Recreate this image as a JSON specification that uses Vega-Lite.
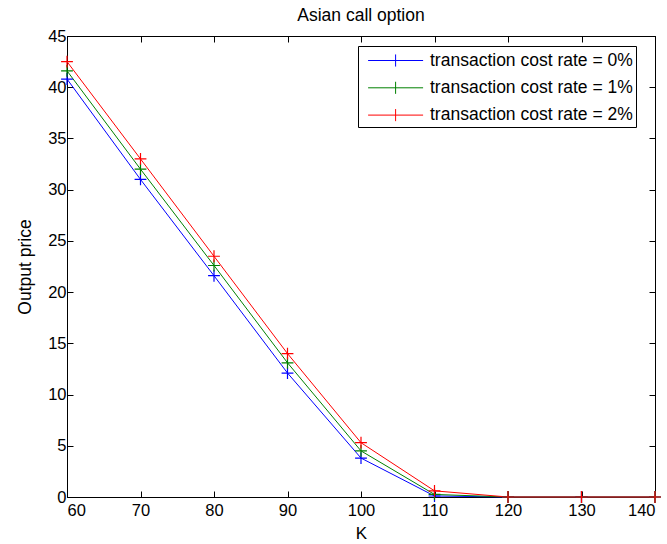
{
  "$schema": "https://vega.github.io/schema/vega-lite/v6.json",
  "width": 588,
  "height": 461,
  "autosize": "none",
  "padding": {"left": 67, "top": 36, "right": 12, "bottom": 47},
  "background": "white",
  "title": {"text": "Asian call option", "fontSize": 17.5, "fontWeight": "normal", "font": "Liberation Sans", "color": "black", "offset": 4},
  "config": {
    "view": {"stroke": "black", "strokeWidth": 1},
    "axis": {"domainColor": "black", "tickColor": "black", "labelColor": "black", "titleColor": "black", "labelFont": "Liberation Sans", "titleFont": "Liberation Sans", "labelFontSize": 16.5, "titleFontWeight": "normal", "grid": false, "tickSize": -6}
  },
  "data": {"values": [
    {"K": 60, "price": 40.8, "series": "transaction cost rate = 0%"},
    {"K": 70, "price": 31.0, "series": "transaction cost rate = 0%"},
    {"K": 80, "price": 21.6, "series": "transaction cost rate = 0%"},
    {"K": 90, "price": 12.1, "series": "transaction cost rate = 0%"},
    {"K": 100, "price": 3.8, "series": "transaction cost rate = 0%"},
    {"K": 110, "price": 0.1, "series": "transaction cost rate = 0%"},
    {"K": 120, "price": 0, "series": "transaction cost rate = 0%"},
    {"K": 130, "price": 0, "series": "transaction cost rate = 0%"},
    {"K": 140, "price": 0, "series": "transaction cost rate = 0%"},
    {"K": 60, "price": 41.6, "series": "transaction cost rate = 1%"},
    {"K": 70, "price": 32.0, "series": "transaction cost rate = 1%"},
    {"K": 80, "price": 22.6, "series": "transaction cost rate = 1%"},
    {"K": 90, "price": 13.1, "series": "transaction cost rate = 1%"},
    {"K": 100, "price": 4.5, "series": "transaction cost rate = 1%"},
    {"K": 110, "price": 0.25, "series": "transaction cost rate = 1%"},
    {"K": 120, "price": 0, "series": "transaction cost rate = 1%"},
    {"K": 130, "price": 0, "series": "transaction cost rate = 1%"},
    {"K": 140, "price": 0, "series": "transaction cost rate = 1%"},
    {"K": 60, "price": 42.5, "series": "transaction cost rate = 2%"},
    {"K": 70, "price": 33.0, "series": "transaction cost rate = 2%"},
    {"K": 80, "price": 23.5, "series": "transaction cost rate = 2%"},
    {"K": 90, "price": 14.0, "series": "transaction cost rate = 2%"},
    {"K": 100, "price": 5.3, "series": "transaction cost rate = 2%"},
    {"K": 110, "price": 0.6, "series": "transaction cost rate = 2%"},
    {"K": 120, "price": 0, "series": "transaction cost rate = 2%"},
    {"K": 130, "price": 0, "series": "transaction cost rate = 2%"},
    {"K": 140, "price": 0, "series": "transaction cost rate = 2%"}
  ]},
  "encoding": {
    "x": {"field": "K", "type": "quantitative", "scale": {"domain": [60, 140], "nice": false, "zero": false}},
    "y": {"field": "price", "type": "quantitative", "scale": {"domain": [0, 45], "nice": false}},
    "color": {"field": "series", "type": "nominal", "scale": {"domain": ["transaction cost rate = 0%", "transaction cost rate = 1%", "transaction cost rate = 2%"], "range": ["#0000ff", "#008000", "#ff0000"]}}
  },
  "layer": [
    {
      "mark": {"type": "line", "strokeWidth": 1},
      "encoding": {
        "x": {"field": "K", "type": "quantitative", "axis": {"orient": "bottom", "title": "K", "titleFontSize": 17, "values": [60, 70, 80, 90, 100, 110, 120, 130, 140], "labelPadding": 11, "titlePadding": 7}},
        "y": {"field": "price", "type": "quantitative", "axis": {"orient": "left", "title": "Output price", "titleFontSize": 17.5, "values": [0, 5, 10, 15, 20, 25, 30, 35, 40, 45], "labelPadding": 7, "titlePadding": 13}},
        "color": {"field": "series", "type": "nominal", "legend": {
          "orient": "none", "legendX": 291, "legendY": 10, "title": null,
          "strokeColor": "black", "fillColor": "white", "padding": 3,
          "symbolType": "M-0.4,0L4.6,0M2.1,-0.55L2.1,0.55", "symbolSize": 484, "symbolStrokeWidth": 1, "symbolFillColor": "transparent",
          "labelFont": "Liberation Sans", "labelFontSize": 17.5, "labelColor": "black", "labelLimit": 400, "rowPadding": 7.3, "labelOffset": 46
        }}
      }
    },
    {
      "mark": {"type": "point", "shape": "M-1,0L1,0M0,-1L0,1", "size": 140, "strokeWidth": 1.2, "filled": false, "opacity": 1},
      "encoding": {
        "x": {"field": "K", "type": "quantitative", "axis": {"orient": "top", "title": null, "labels": false, "values": [60, 70, 80, 90, 100, 110, 120, 130, 140]}},
        "y": {"field": "price", "type": "quantitative", "axis": {"orient": "right", "title": null, "labels": false, "values": [0, 5, 10, 15, 20, 25, 30, 35, 40, 45]}},
        "color": {"field": "series", "type": "nominal", "legend": null}
      }
    }
  ],
  "resolve": {"axis": {"x": "independent", "y": "independent"}}
}
